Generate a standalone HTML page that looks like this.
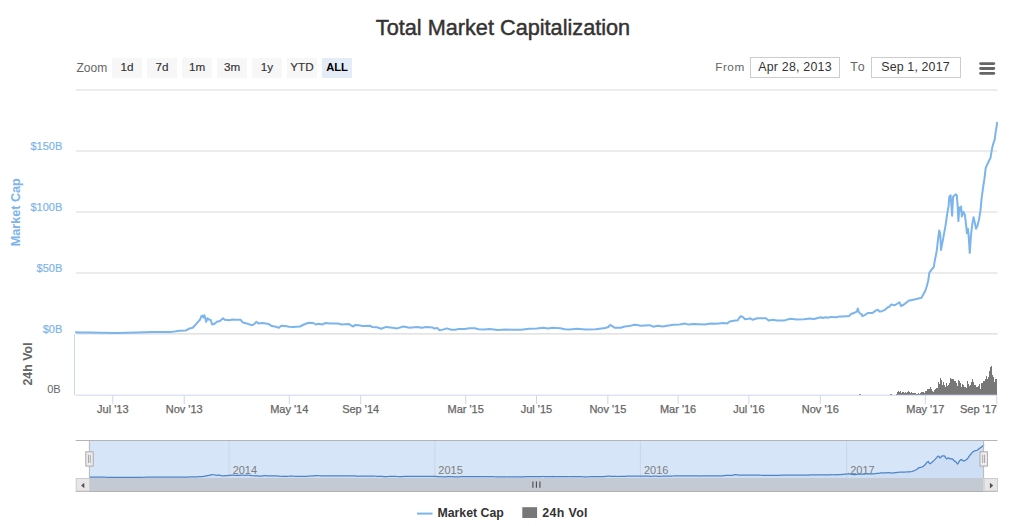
<!DOCTYPE html>
<html><head><meta charset="utf-8"><title>Total Market Capitalization</title><style>html,body{margin:0;padding:0;background:#fff;width:1024px;height:526px;overflow:hidden;position:relative}</style></head><body>
<svg width="1024" height="526" viewBox="0 0 1024 526" style="position:absolute;left:0;top:0;font-family:'Liberation Sans', Arial, sans-serif">
<rect x="0" y="0" width="1024" height="526" fill="#ffffff"/>
<text x="503" y="34.6" text-anchor="middle" font-size="21.7" fill="#333333" stroke="#333333" stroke-width="0.45">Total Market Capitalization</text>
<text x="76.5" y="71.5" font-size="12" fill="#666666">Zoom</text>
<rect x="112" y="58" width="30" height="20" fill="#f7f7f7"/>
<text x="127" y="70.9" text-anchor="middle" font-size="11.7" fill="#333333" stroke="#333333" stroke-width="0.15">1d</text>
<rect x="147" y="58" width="30" height="20" fill="#f7f7f7"/>
<text x="162" y="70.9" text-anchor="middle" font-size="11.7" fill="#333333" stroke="#333333" stroke-width="0.15">7d</text>
<rect x="182" y="58" width="30" height="20" fill="#f7f7f7"/>
<text x="197" y="70.9" text-anchor="middle" font-size="11.7" fill="#333333" stroke="#333333" stroke-width="0.15">1m</text>
<rect x="217" y="58" width="30" height="20" fill="#f7f7f7"/>
<text x="232" y="70.9" text-anchor="middle" font-size="11.7" fill="#333333" stroke="#333333" stroke-width="0.15">3m</text>
<rect x="252" y="58" width="30" height="20" fill="#f7f7f7"/>
<text x="267" y="70.9" text-anchor="middle" font-size="11.7" fill="#333333" stroke="#333333" stroke-width="0.15">1y</text>
<rect x="287" y="58" width="30" height="20" fill="#f7f7f7"/>
<text x="302" y="70.9" text-anchor="middle" font-size="11.7" fill="#333333" stroke="#333333" stroke-width="0.15">YTD</text>
<rect x="322" y="58" width="30" height="20" fill="#e4ecf7"/>
<text x="337" y="70.9" text-anchor="middle" font-size="11.2" font-weight="bold" fill="#000000">ALL</text>
<text x="715.2" y="71" font-size="11.8" fill="#666666" letter-spacing="0.5">From</text>
<rect x="750.5" y="57.5" width="89" height="20" fill="#ffffff" stroke="#cccccc" stroke-width="1"/>
<text x="795" y="71" text-anchor="middle" font-size="12.4" fill="#333333" letter-spacing="0.22">Apr 28, 2013</text>
<text x="850.3" y="71" font-size="12.4" fill="#666666" letter-spacing="1.3">To</text>
<rect x="871.5" y="57.5" width="89" height="20" fill="#ffffff" stroke="#cccccc" stroke-width="1"/>
<text x="915.5" y="71" text-anchor="middle" font-size="12.4" fill="#333333" letter-spacing="0.15">Sep 1, 2017</text>
<line x1="980.6" y1="63.6" x2="993.8" y2="63.6" stroke="#666666" stroke-width="2.8" stroke-linecap="round"/>
<line x1="980.6" y1="68.5" x2="993.8" y2="68.5" stroke="#666666" stroke-width="2.8" stroke-linecap="round"/>
<line x1="980.6" y1="73.3" x2="993.8" y2="73.3" stroke="#666666" stroke-width="2.8" stroke-linecap="round"/>
<line x1="75.7" y1="90.05" x2="997.5" y2="90.05" stroke="#dadada" stroke-width="1.1"/>
<line x1="75.7" y1="151.0" x2="997.5" y2="151.0" stroke="#dadada" stroke-width="1.1"/>
<line x1="75.7" y1="212.0" x2="997.5" y2="212.0" stroke="#dadada" stroke-width="1.1"/>
<line x1="75.7" y1="272.95" x2="997.5" y2="272.95" stroke="#dadada" stroke-width="1.1"/>
<line x1="75.7" y1="333.9" x2="997.5" y2="333.9" stroke="#dadada" stroke-width="1.1"/>
<text x="62.3" y="149.70" text-anchor="end" font-size="11" fill="#7cb5ec" stroke="#7cb5ec" stroke-width="0.2">$150B</text>
<text x="62.3" y="210.70" text-anchor="end" font-size="11" fill="#7cb5ec" stroke="#7cb5ec" stroke-width="0.2">$100B</text>
<text x="62.3" y="271.65" text-anchor="end" font-size="11" fill="#7cb5ec" stroke="#7cb5ec" stroke-width="0.2">$50B</text>
<text x="62.3" y="332.60" text-anchor="end" font-size="11" fill="#7cb5ec" stroke="#7cb5ec" stroke-width="0.2">$0B</text>
<text transform="translate(20.4,212.2) rotate(-90)" text-anchor="middle" font-size="12.6" font-weight="bold" fill="#7cb5ec">Market Cap</text>
<text transform="translate(32.3,364) rotate(-90)" text-anchor="middle" font-size="12.4" font-weight="bold" fill="#666666">24h Vol</text>
<text x="60.6" y="392.8" text-anchor="end" font-size="11" fill="#666666">0B</text>
<line x1="74.5" y1="334.3" x2="74.5" y2="395" stroke="#ccd6eb" stroke-width="1"/>
<path d="M859,394.8V394.00H860V394.8ZM860,394.8V394.20H861V394.8ZM890,394.8V394.20H891V394.8ZM891,394.8V394.20H892V394.8ZM896,394.8V393.75H897V394.8ZM897,394.8V392.10H898V394.8ZM898,394.8V391.34H899V394.8ZM899,394.8V391.86H900V394.8ZM900,394.8V390.72H901V394.8ZM901,394.8V392.64H902V394.8ZM902,394.8V392.33H903V394.8ZM903,394.8V392.04H904V394.8ZM904,394.8V393.39H905V394.8ZM905,394.8V392.01H906V394.8ZM906,394.8V392.72H907V394.8ZM907,394.8V391.59H908V394.8ZM908,394.8V391.39H909V394.8ZM909,394.8V391.94H910V394.8ZM910,394.8V393.03H911V394.8ZM911,394.8V391.85H912V394.8ZM912,394.8V392.59H913V394.8ZM913,394.8V393.15H914V394.8ZM914,394.8V392.60H915V394.8ZM915,394.8V392.55H916V394.8ZM916,394.8V393.50H917V394.8ZM917,394.8V394.20H918V394.8ZM918,394.8V392.51H919V394.8ZM919,394.8V394.19H920V394.8ZM920,394.8V392.56H921V394.8ZM921,394.8V391.95H922V394.8ZM922,394.8V391.62H923V394.8ZM923,394.8V391.86H924V394.8ZM924,394.8V392.63H925V394.8ZM925,394.8V390.55H926V394.8ZM926,394.8V390.59H927V394.8ZM927,394.8V389.30H928V394.8ZM928,394.8V389.14H929V394.8ZM929,394.8V388.75H930V394.8ZM930,394.8V386.60H931V394.8ZM931,394.8V388.82H932V394.8ZM932,394.8V390.62H933V394.8ZM933,394.8V392.27H934V394.8ZM934,394.8V390.06H935V394.8ZM935,394.8V388.55H936V394.8ZM936,394.8V388.28H937V394.8ZM937,394.8V387.71H938V394.8ZM938,394.8V381.53H939V394.8ZM939,394.8V383.79H940V394.8ZM940,394.8V377.94H941V394.8ZM941,394.8V380.34H942V394.8ZM942,394.8V384.88H943V394.8ZM943,394.8V381.99H944V394.8ZM944,394.8V385.07H945V394.8ZM945,394.8V386.55H946V394.8ZM946,394.8V382.66H947V394.8ZM947,394.8V385.84H948V394.8ZM948,394.8V384.96H949V394.8ZM949,394.8V383.27H950V394.8ZM950,394.8V377.75H951V394.8ZM951,394.8V378.92H952V394.8ZM952,394.8V379.27H953V394.8ZM953,394.8V379.44H954V394.8ZM954,394.8V380.75H955V394.8ZM955,394.8V381.08H956V394.8ZM956,394.8V383.38H957V394.8ZM957,394.8V386.49H958V394.8ZM958,394.8V379.60H959V394.8ZM959,394.8V381.27H960V394.8ZM960,394.8V383.39H961V394.8ZM961,394.8V386.83H962V394.8ZM962,394.8V384.24H963V394.8ZM963,394.8V385.05H964V394.8ZM964,394.8V387.36H965V394.8ZM965,394.8V387.25H966V394.8ZM966,394.8V387.83H967V394.8ZM967,394.8V380.77H968V394.8ZM968,394.8V384.32H969V394.8ZM969,394.8V385.65H970V394.8ZM970,394.8V385.48H971V394.8ZM971,394.8V382.47H972V394.8ZM972,394.8V378.74H973V394.8ZM973,394.8V381.60H974V394.8ZM974,394.8V384.65H975V394.8ZM975,394.8V384.75H976V394.8ZM976,394.8V386.81H977V394.8ZM977,394.8V387.44H978V394.8ZM978,394.8V385.90H979V394.8ZM979,394.8V384.25H980V394.8ZM980,394.8V388.64H981V394.8ZM981,394.8V383.11H982V394.8ZM982,394.8V382.89H983V394.8ZM983,394.8V381.49H984V394.8ZM984,394.8V380.89H985V394.8ZM985,394.8V378.70H986V394.8ZM986,394.8V376.28H987V394.8ZM987,394.8V379.13H988V394.8ZM988,394.8V377.06H989V394.8ZM989,394.8V371.33H990V394.8ZM990,394.8V366.77H991V394.8ZM991,394.8V366.37H992V394.8ZM992,394.8V374.50H993V394.8ZM993,394.8V376.99H994V394.8ZM994,394.8V382.11H995V394.8ZM995,394.8V379.20H996V394.8ZM996,394.8V378.57H997V394.8Z" fill="#777777" stroke="none" shape-rendering="crispEdges"/>
<line x1="75.7" y1="395.2" x2="997.5" y2="395.2" stroke="#ccd6eb" stroke-width="1"/>
<line x1="112.84" y1="395.2" x2="112.84" y2="404" stroke="#ccd6eb" stroke-width="1"/>
<text x="112.84" y="412.8" text-anchor="middle" font-size="11" fill="#666666" stroke="#666666" stroke-width="0.25">Jul '13</text>
<line x1="184.22" y1="395.2" x2="184.22" y2="404" stroke="#ccd6eb" stroke-width="1"/>
<text x="184.22" y="412.8" text-anchor="middle" font-size="11" fill="#666666" stroke="#666666" stroke-width="0.25">Nov '13</text>
<line x1="289.27" y1="395.2" x2="289.27" y2="404" stroke="#ccd6eb" stroke-width="1"/>
<text x="289.27" y="412.8" text-anchor="middle" font-size="11" fill="#666666" stroke="#666666" stroke-width="0.25">May '14</text>
<line x1="360.65" y1="395.2" x2="360.65" y2="404" stroke="#ccd6eb" stroke-width="1"/>
<text x="360.65" y="412.8" text-anchor="middle" font-size="11" fill="#666666" stroke="#666666" stroke-width="0.25">Sep '14</text>
<line x1="465.69" y1="395.2" x2="465.69" y2="404" stroke="#ccd6eb" stroke-width="1"/>
<text x="465.69" y="412.8" text-anchor="middle" font-size="11" fill="#666666" stroke="#666666" stroke-width="0.25">Mar '15</text>
<line x1="536.49" y1="395.2" x2="536.49" y2="404" stroke="#ccd6eb" stroke-width="1"/>
<text x="536.49" y="412.8" text-anchor="middle" font-size="11" fill="#666666" stroke="#666666" stroke-width="0.25">Jul '15</text>
<line x1="607.87" y1="395.2" x2="607.87" y2="404" stroke="#ccd6eb" stroke-width="1"/>
<text x="607.87" y="412.8" text-anchor="middle" font-size="11" fill="#666666" stroke="#666666" stroke-width="0.25">Nov '15</text>
<line x1="678.09" y1="395.2" x2="678.09" y2="404" stroke="#ccd6eb" stroke-width="1"/>
<text x="678.09" y="412.8" text-anchor="middle" font-size="11" fill="#666666" stroke="#666666" stroke-width="0.25">Mar '16</text>
<line x1="748.89" y1="395.2" x2="748.89" y2="404" stroke="#ccd6eb" stroke-width="1"/>
<text x="748.89" y="412.8" text-anchor="middle" font-size="11" fill="#666666" stroke="#666666" stroke-width="0.25">Jul '16</text>
<line x1="820.28" y1="395.2" x2="820.28" y2="404" stroke="#ccd6eb" stroke-width="1"/>
<text x="820.28" y="412.8" text-anchor="middle" font-size="11" fill="#666666" stroke="#666666" stroke-width="0.25">Nov '16</text>
<line x1="925.32" y1="395.2" x2="925.32" y2="404" stroke="#ccd6eb" stroke-width="1"/>
<text x="925.32" y="412.8" text-anchor="middle" font-size="11" fill="#666666" stroke="#666666" stroke-width="0.25">May '17</text>
<line x1="996.70" y1="395.2" x2="996.70" y2="404" stroke="#ccd6eb" stroke-width="1"/>
<text x="996.90" y="412.8" text-anchor="end" font-size="11" fill="#666666" stroke="#666666" stroke-width="0.25">Sep '17</text>
<path d="M76,332.3 L80,332.4 L89.6,332.5 L100,332.8 L116.2,333.1 L126,332.8 L136.5,332.5 L152.1,332 L160,332.1 L170,332 L174.7,331.6 L179.4,330.8 L185.6,330.6 L188.75,328.8 L192.7,327.7 L195,325.3 L198.1,321.8 L200.1,319.5 L201.25,316.3 L202.4,315.5 L203.2,317.5 L204.4,315.2 L205.2,317.9 L206.1,321.8 L207.5,318.3 L208.7,319.5 L210.6,319.8 L212.2,324.5 L214.5,323.75 L216.9,321.8 L220,321 L223.1,318.3 L224.7,319.8 L229.4,320.2 L232.5,319.5 L234.8,319.8 L238,319.7 L240.7,319.8 L243,322.6 L246.6,323.4 L249.7,324.5 L252.3,325.2 L254.7,323.75 L256.25,321.8 L258.6,323.4 L262.5,323 L268.75,324.1 L271.9,326.1 L275.8,326.7 L278.9,327.7 L281.25,325.7 L285.2,325.9 L289.1,326.7 L293,326.9 L300,326.5 L303.9,324.5 L308.6,322.8 L313.3,323 L315.6,324.5 L318.75,323.75 L321.9,324.5 L325.8,323 L329.7,323.6 L337.8,323.6 L341.7,324.4 L348.75,323.9 L351.1,325.5 L353.4,326.5 L355,324.9 L358.9,325.2 L362.8,325.9 L369.8,325.7 L372.2,327 L376.9,327.3 L381.2,328.7 L386.25,326.9 L392.5,327.8 L397.2,328.4 L403.4,326.5 L409.7,327.7 L417,326.9 L421.7,327.7 L426.4,327 L432.7,327.5 L434.2,328.6 L437.3,328 L439.7,330.4 L442.8,329.6 L446.7,328.4 L451.4,329.8 L455.3,329.8 L458.4,329.1 L464.7,329.1 L469.4,328.3 L474.8,328.3 L478.75,329.2 L484.2,329.4 L489.7,329.1 L497.8,330 L505.6,329.4 L511.9,329.8 L521.25,329.8 L529.1,328.8 L536.9,328.4 L543.1,327.7 L547.8,328.4 L552.5,327.8 L560.3,328.3 L565,329.2 L569.7,329.4 L577,328.8 L585.6,329.6 L595.8,329.2 L605.2,328 L608.3,327 L610.2,324.9 L611.8,325.9 L614.5,327.7 L620.8,327.8 L624.7,326.5 L629.4,326.1 L634.1,324.7 L637.2,324.9 L640.3,325.7 L645,325.5 L649.7,325.2 L653.1,326.7 L657.8,325.8 L662.5,326.6 L667.2,325.8 L673.4,324.8 L679.7,324.4 L685.2,323.6 L688.3,324.6 L693.75,324.1 L704.7,324.6 L710.9,323.6 L716.4,323.8 L723.4,323 L727.3,323.4 L729.7,321.5 L733.9,320.8 L737.8,320.2 L739.4,317.7 L740.9,316.1 L743.3,317.3 L744.8,319.2 L748.75,318.8 L750.3,318.3 L752.7,319.8 L757.3,318.3 L765.9,318.3 L768.7,320.6 L773,319.8 L776.9,320.4 L784.7,320.4 L790.2,318.8 L796.4,319.4 L804.2,319.2 L809.7,318.4 L813.9,319 L820.9,317.2 L822.5,318 L825.6,317.2 L828,317.8 L831.1,316.9 L836.6,317.2 L839.7,316.4 L842.8,316.6 L849.1,316.1 L850.6,314.3 L854.5,312.7 L856.9,311.6 L857.8,308.4 L858.8,312 L860,313.5 L861.6,314.1 L862.3,316.1 L864.7,315.1 L867.8,313 L872.5,313 L875.6,310.6 L878,309.8 L879.5,311.6 L881.9,311.2 L885,309.8 L887.3,307.7 L889.7,306.5 L891.1,304.5 L894.9,305.3 L899.4,302.2 L901,306 L904,304.5 L908.6,300.7 L915.4,299.2 L921.5,297.7 L925.3,290.8 L926.8,286.3 L928.3,280.2 L929.4,272.6 L931.4,269.8 L933.7,267.3 L934.9,260 L936.7,251.3 L937.6,243 L939.2,230.5 L940.2,233.2 L941,250 L943.3,237.8 L945.5,225.6 L947.5,212 L948.6,205.9 L949.3,196.7 L950.6,195.2 L951.2,202.8 L952.1,215.7 L953.1,196.7 L954.7,195.2 L955.8,194.4 L956.8,195.2 L957.7,206.5 L958.4,221.1 L959.4,207.4 L960.3,210.4 L961.1,206.6 L961.8,216.5 L963.4,211.9 L964.9,215 L966,224.1 L966.9,233.2 L967.9,228.7 L968.7,236.3 L969.75,253 L971,234.8 L972.5,222.6 L973.6,217.3 L974.8,222.6 L976,228.7 L977.5,225.6 L979,219.5 L980.5,210.4 L981.6,198.6 L983,188 L984.5,178.4 L985.7,168.1 L987.1,164.7 L988.8,161.3 L990.5,157.9 L991.9,149.3 L993.1,144.2 L994.8,139.1 L995.6,132.2 L996.5,127.1 L997,122.8" fill="none" stroke="#7cb5ec" stroke-width="2" stroke-linejoin="round" stroke-linecap="round"/>
<rect x="89.4" y="440.5" width="894.2" height="37.5" fill="#d7e5f8"/>
<line x1="229.14" y1="440.5" x2="229.14" y2="478.0" stroke="#c9d3e0" stroke-width="0.8"/>
<text x="232.64" y="473.8" font-size="11" fill="#7d7d7d">2014</text>
<line x1="434.80" y1="440.5" x2="434.80" y2="478.0" stroke="#c9d3e0" stroke-width="0.8"/>
<text x="438.30" y="473.8" font-size="11" fill="#7d7d7d">2015</text>
<line x1="640.46" y1="440.5" x2="640.46" y2="478.0" stroke="#c9d3e0" stroke-width="0.8"/>
<text x="643.96" y="473.8" font-size="11" fill="#7d7d7d">2016</text>
<line x1="846.68" y1="440.5" x2="846.68" y2="478.0" stroke="#c9d3e0" stroke-width="0.8"/>
<text x="850.18" y="473.8" font-size="11" fill="#7d7d7d">2017</text>
<path d="M89.4,477.20 L90.4,477.20 L91.3,477.21 L92.3,477.21 L93.3,477.21 L94.3,477.22 L95.2,477.22 L96.2,477.22 L97.2,477.22 L98.1,477.22 L99.1,477.22 L100.1,477.23 L101.1,477.23 L102.0,477.23 L103.0,477.23 L104.0,477.24 L104.9,477.24 L105.9,477.25 L106.9,477.25 L107.8,477.25 L108.8,477.26 L109.8,477.26 L110.8,477.27 L111.7,477.27 L112.7,477.28 L113.7,477.28 L114.6,477.28 L115.6,477.29 L116.6,477.29 L117.6,477.29 L118.5,477.29 L119.5,477.30 L120.5,477.30 L121.4,477.30 L122.4,477.31 L123.4,477.31 L124.4,477.31 L125.3,477.31 L126.3,477.32 L127.3,477.32 L128.2,477.32 L129.2,477.32 L130.2,477.32 L131.1,477.31 L132.1,477.31 L133.1,477.30 L134.1,477.30 L135.0,477.29 L136.0,477.29 L137.0,477.28 L137.9,477.28 L138.9,477.27 L139.9,477.27 L140.9,477.27 L141.8,477.26 L142.8,477.26 L143.8,477.25 L144.7,477.25 L145.7,477.24 L146.7,477.24 L147.7,477.23 L148.6,477.23 L149.6,477.23 L150.6,477.22 L151.5,477.22 L152.5,477.21 L153.5,477.21 L154.5,477.20 L155.4,477.20 L156.4,477.19 L157.4,477.19 L158.3,477.18 L159.3,477.18 L160.3,477.17 L161.2,477.17 L162.2,477.16 L163.2,477.16 L164.2,477.15 L165.1,477.16 L166.1,477.16 L167.1,477.16 L168.0,477.16 L169.0,477.16 L170.0,477.17 L171.0,477.17 L171.9,477.17 L172.9,477.17 L173.9,477.16 L174.8,477.16 L175.8,477.16 L176.8,477.16 L177.8,477.16 L178.7,477.16 L179.7,477.16 L180.7,477.15 L181.6,477.14 L182.6,477.13 L183.6,477.12 L184.5,477.10 L185.5,477.09 L186.5,477.06 L187.5,477.04 L188.4,477.01 L189.4,476.99 L190.4,476.97 L191.3,476.96 L192.3,476.96 L193.3,476.95 L194.3,476.95 L195.2,476.94 L196.2,476.92 L197.2,476.84 L198.1,476.75 L199.1,476.67 L200.1,476.61 L201.1,476.57 L202.0,476.53 L203.0,476.46 L204.0,476.32 L204.9,476.16 L205.9,475.99 L206.9,475.81 L207.8,475.64 L208.8,475.46 L209.8,475.27 L210.8,474.95 L211.7,474.67 L212.7,474.74 L213.7,474.75 L214.6,474.75 L215.6,475.26 L216.6,475.33 L217.6,475.11 L218.5,475.19 L219.5,475.23 L220.5,475.36 L221.4,475.76 L222.4,475.96 L223.4,475.91 L224.4,475.84 L225.3,475.72 L226.3,475.60 L227.3,475.53 L228.2,475.49 L229.2,475.45 L230.2,475.35 L231.2,475.21 L232.1,475.09 L233.1,475.11 L234.1,475.23 L235.0,475.27 L236.0,475.28 L237.0,475.29 L237.9,475.31 L238.9,475.30 L239.9,475.27 L240.9,475.24 L241.8,475.22 L242.8,475.23 L243.8,475.25 L244.7,475.25 L245.7,475.25 L246.7,475.24 L247.7,475.24 L248.6,475.25 L249.6,475.29 L250.6,475.44 L251.5,475.62 L252.5,475.71 L253.5,475.75 L254.5,475.78 L255.4,475.82 L256.4,475.88 L257.4,475.93 L258.3,475.98 L259.3,476.03 L260.3,476.07 L261.2,476.05 L262.2,475.96 L263.2,475.85 L264.2,475.67 L265.1,475.62 L266.1,475.72 L267.1,475.80 L268.0,475.80 L269.0,475.78 L270.0,475.77 L271.0,475.76 L271.9,475.79 L272.9,475.81 L273.9,475.84 L274.8,475.87 L275.8,475.90 L276.8,475.93 L277.8,476.02 L278.7,476.12 L279.7,476.21 L280.7,476.25 L281.6,476.28 L282.6,476.30 L283.6,476.33 L284.6,476.37 L285.5,476.42 L286.5,476.46 L287.5,476.38 L288.4,476.25 L289.4,476.18 L290.4,476.18 L291.3,476.19 L292.3,476.20 L293.3,476.22 L294.3,476.25 L295.2,476.28 L296.2,476.32 L297.2,476.33 L298.1,476.34 L299.1,476.35 L300.1,476.36 L301.1,476.35 L302.0,476.34 L303.0,476.34 L304.0,476.33 L304.9,476.32 L305.9,476.31 L306.9,476.30 L307.9,476.24 L308.8,476.16 L309.8,476.08 L310.8,476.00 L311.7,475.94 L312.7,475.89 L313.7,475.83 L314.6,475.77 L315.6,475.73 L316.6,475.73 L317.6,475.74 L318.5,475.74 L319.5,475.75 L320.5,475.80 L321.4,475.89 L322.4,475.96 L323.4,475.95 L324.4,475.91 L325.3,475.88 L326.3,475.90 L327.3,475.94 L328.2,475.97 L329.2,475.94 L330.2,475.88 L331.2,475.82 L332.1,475.77 L333.1,475.77 L334.1,475.80 L335.0,475.82 L336.0,475.84 L337.0,475.85 L338.0,475.85 L338.9,475.85 L339.9,475.85 L340.9,475.85 L341.8,475.85 L342.8,475.85 L343.8,475.85 L344.7,475.88 L345.7,475.91 L346.7,475.94 L347.7,475.96 L348.6,475.96 L349.6,475.95 L350.6,475.94 L351.5,475.93 L352.5,475.92 L353.5,475.90 L354.5,475.91 L355.4,475.99 L356.4,476.10 L357.4,476.18 L358.3,476.25 L359.3,476.24 L360.3,476.11 L361.3,476.06 L362.2,476.07 L363.2,476.08 L364.2,476.09 L365.1,476.12 L366.1,476.15 L367.1,476.17 L368.0,476.20 L369.0,476.20 L370.0,476.20 L371.0,476.19 L371.9,476.19 L372.9,476.18 L373.9,476.18 L374.8,476.19 L375.8,476.25 L376.8,476.33 L377.8,476.38 L378.7,476.39 L379.7,476.40 L380.7,476.41 L381.6,476.42 L382.6,476.46 L383.6,476.51 L384.6,476.56 L385.5,476.61 L386.5,476.61 L387.5,476.56 L388.4,476.50 L389.4,476.45 L390.4,476.39 L391.4,476.37 L392.3,476.39 L393.3,476.41 L394.3,476.44 L395.2,476.46 L396.2,476.48 L397.2,476.50 L398.1,476.52 L399.1,476.54 L400.1,476.56 L401.1,476.58 L402.0,476.57 L403.0,476.52 L404.0,476.47 L404.9,476.43 L405.9,476.38 L406.9,476.33 L407.9,476.31 L408.8,476.34 L409.8,476.37 L410.8,476.40 L411.7,476.42 L412.7,476.45 L413.7,476.48 L414.7,476.47 L415.6,476.45 L416.6,476.43 L417.6,476.42 L418.5,476.40 L419.5,476.38 L420.5,476.37 L421.4,476.38 L422.4,476.40 L423.4,476.43 L424.4,476.46 L425.3,476.48 L426.3,476.46 L427.3,476.44 L428.2,476.41 L429.2,476.39 L430.2,476.38 L431.2,476.39 L432.1,476.40 L433.1,476.42 L434.1,476.43 L435.0,476.44 L436.0,476.47 L437.0,476.57 L438.0,476.61 L438.9,476.58 L439.9,476.55 L440.9,476.60 L441.8,476.75 L442.8,476.87 L443.8,476.86 L444.7,476.82 L445.7,476.78 L446.7,476.74 L447.7,476.69 L448.6,476.64 L449.6,476.61 L450.6,476.64 L451.5,476.69 L452.5,476.73 L453.5,476.78 L454.5,476.81 L455.4,476.81 L456.4,476.81 L457.4,476.81 L458.3,476.80 L459.3,476.76 L460.3,476.73 L461.3,476.70 L462.2,476.70 L463.2,476.70 L464.2,476.70 L465.1,476.70 L466.1,476.70 L467.1,476.70 L468.1,476.68 L469.0,476.65 L470.0,476.62 L471.0,476.60 L471.9,476.58 L472.9,476.58 L473.9,476.58 L474.8,476.58 L475.8,476.58 L476.8,476.58 L477.8,476.61 L478.7,476.64 L479.7,476.68 L480.7,476.71 L481.6,476.72 L482.6,476.73 L483.6,476.73 L484.6,476.74 L485.5,476.75 L486.5,476.74 L487.5,476.74 L488.4,476.73 L489.4,476.72 L490.4,476.71 L491.4,476.71 L492.3,476.72 L493.3,476.74 L494.3,476.75 L495.2,476.77 L496.2,476.79 L497.2,476.81 L498.1,476.82 L499.1,476.84 L500.1,476.83 L501.1,476.82 L502.0,476.81 L503.0,476.80 L504.0,476.78 L504.9,476.77 L505.9,476.76 L506.9,476.75 L507.9,476.76 L508.8,476.77 L509.8,476.78 L510.8,476.79 L511.7,476.80 L512.7,476.81 L513.7,476.81 L514.7,476.81 L515.6,476.81 L516.6,476.81 L517.6,476.81 L518.5,476.81 L519.5,476.81 L520.5,476.81 L521.5,476.81 L522.4,476.80 L523.4,476.78 L524.4,476.76 L525.3,476.74 L526.3,476.72 L527.3,476.70 L528.2,476.68 L529.2,476.66 L530.2,476.65 L531.2,476.64 L532.1,476.63 L533.1,476.63 L534.1,476.62 L535.0,476.61 L536.0,476.60 L537.0,476.59 L538.0,476.58 L538.9,476.56 L539.9,476.54 L540.9,476.53 L541.8,476.51 L542.8,476.49 L543.8,476.50 L544.8,476.52 L545.7,476.54 L546.7,476.57 L547.7,476.59 L548.6,476.58 L549.6,476.56 L550.6,476.54 L551.5,476.52 L552.5,476.50 L553.5,476.51 L554.5,476.52 L555.4,476.53 L556.4,476.54 L557.4,476.55 L558.3,476.56 L559.3,476.57 L560.3,476.59 L561.3,476.62 L562.2,476.65 L563.2,476.68 L564.2,476.71 L565.1,476.72 L566.1,476.73 L567.1,476.74 L568.1,476.74 L569.0,476.75 L570.0,476.74 L571.0,476.72 L571.9,476.71 L572.9,476.70 L573.9,476.68 L574.9,476.67 L575.8,476.66 L576.8,476.67 L577.8,476.68 L578.7,476.69 L579.7,476.71 L580.7,476.72 L581.6,476.74 L582.6,476.75 L583.6,476.77 L584.6,476.78 L585.5,476.77 L586.5,476.77 L587.5,476.76 L588.4,476.75 L589.4,476.75 L590.4,476.74 L591.4,476.74 L592.3,476.73 L593.3,476.72 L594.3,476.72 L595.2,476.70 L596.2,476.68 L597.2,476.66 L598.2,476.64 L599.1,476.62 L600.1,476.60 L601.1,476.58 L602.0,476.56 L603.0,476.54 L604.0,476.51 L604.9,476.46 L605.9,476.41 L606.9,476.30 L607.9,476.13 L608.8,476.10 L609.8,476.20 L610.8,476.30 L611.7,476.40 L612.7,476.47 L613.7,476.49 L614.7,476.49 L615.6,476.49 L616.6,476.49 L617.6,476.50 L618.5,476.49 L619.5,476.45 L620.5,476.40 L621.5,476.35 L622.4,476.30 L623.4,476.28 L624.4,476.27 L625.3,476.26 L626.3,476.24 L627.3,476.22 L628.3,476.18 L629.2,476.13 L630.2,476.08 L631.2,476.04 L632.1,476.02 L633.1,476.03 L634.1,476.04 L635.0,476.07 L636.0,476.11 L637.0,476.15 L638.0,476.17 L638.9,476.16 L639.9,476.16 L640.9,476.15 L641.8,476.14 L642.8,476.13 L643.8,476.13 L644.8,476.12 L645.7,476.11 L646.7,476.11 L647.7,476.16 L648.6,476.23 L649.6,476.30 L650.6,476.31 L651.6,476.28 L652.5,476.25 L653.5,476.22 L654.5,476.20 L655.4,476.21 L656.4,476.24 L657.4,476.27 L658.3,476.29 L659.3,476.30 L660.3,476.28 L661.3,476.25 L662.2,476.23 L663.2,476.20 L664.2,476.18 L665.1,476.15 L666.1,476.13 L667.1,476.10 L668.1,476.08 L669.0,476.05 L670.0,476.03 L671.0,476.02 L671.9,476.01 L672.9,476.00 L673.9,475.99 L674.9,475.98 L675.8,475.97 L676.8,475.95 L677.8,475.93 L678.7,475.90 L679.7,475.88 L680.7,475.86 L681.6,475.87 L682.6,475.92 L683.6,475.97 L684.6,475.99 L685.5,475.98 L686.5,475.97 L687.5,475.95 L688.4,475.94 L689.4,475.93 L690.4,475.93 L691.4,475.94 L692.3,475.95 L693.3,475.95 L694.3,475.96 L695.2,475.97 L696.2,475.97 L697.2,475.98 L698.2,475.99 L699.1,475.99 L700.1,476.00 L701.1,475.98 L702.0,475.95 L703.0,475.93 L704.0,475.90 L705.0,475.88 L705.9,475.85 L706.9,475.85 L707.9,475.86 L708.8,475.86 L709.8,475.87 L710.8,475.87 L711.7,475.87 L712.7,475.85 L713.7,475.84 L714.7,475.82 L715.6,475.80 L716.6,475.78 L717.6,475.77 L718.5,475.76 L719.5,475.77 L720.5,475.79 L721.5,475.81 L722.4,475.76 L723.4,475.64 L724.4,475.54 L725.3,475.49 L726.3,475.47 L727.3,475.44 L728.3,475.42 L729.2,475.39 L730.2,475.37 L731.2,475.34 L732.1,475.29 L733.1,475.10 L734.1,474.88 L735.0,474.74 L736.0,474.74 L737.0,474.82 L738.0,474.95 L738.9,475.11 L739.9,475.15 L740.9,475.13 L741.8,475.12 L742.8,475.10 L743.8,475.05 L744.8,475.07 L745.7,475.16 L746.7,475.23 L747.7,475.20 L748.6,475.15 L749.6,475.10 L750.6,475.05 L751.6,475.02 L752.5,475.02 L753.5,475.02 L754.5,475.02 L755.4,475.02 L756.4,475.02 L757.4,475.02 L758.4,475.02 L759.3,475.03 L760.3,475.12 L761.3,475.25 L762.2,475.35 L763.2,475.35 L764.2,475.32 L765.1,475.29 L766.1,475.27 L767.1,475.27 L768.1,475.30 L769.0,475.32 L770.0,475.34 L771.0,475.35 L771.9,475.35 L772.9,475.35 L773.9,475.35 L774.9,475.35 L775.8,475.35 L776.8,475.35 L777.8,475.34 L778.7,475.30 L779.7,475.26 L780.7,475.21 L781.7,475.17 L782.6,475.12 L783.6,475.11 L784.6,475.12 L785.5,475.14 L786.5,475.15 L787.5,475.17 L788.4,475.18 L789.4,475.19 L790.4,475.19 L791.4,475.18 L792.3,475.18 L793.3,475.18 L794.3,475.17 L795.2,475.17 L796.2,475.16 L797.2,475.15 L798.2,475.13 L799.1,475.11 L800.1,475.08 L801.1,475.06 L802.0,475.04 L803.0,475.06 L804.0,475.08 L805.0,475.10 L805.9,475.12 L806.9,475.10 L807.9,475.06 L808.8,475.02 L809.8,474.98 L810.8,474.94 L811.8,474.90 L812.7,474.87 L813.7,474.91 L814.7,474.96 L815.6,474.93 L816.6,474.89 L817.6,474.86 L818.5,474.89 L819.5,474.93 L820.5,474.91 L821.5,474.87 L822.4,474.82 L823.4,474.81 L824.4,474.82 L825.3,474.83 L826.3,474.83 L827.3,474.84 L828.3,474.84 L829.2,474.81 L830.2,474.77 L831.2,474.73 L832.1,474.74 L833.1,474.75 L834.1,474.75 L835.1,474.75 L836.0,474.73 L837.0,474.72 L838.0,474.71 L838.9,474.70 L839.9,474.68 L840.9,474.57 L841.8,474.41 L842.8,474.33 L843.8,474.27 L844.8,474.20 L845.7,474.14 L846.7,474.06 L847.7,473.95 L848.6,473.68 L849.6,473.94 L850.6,474.21 L851.6,474.32 L852.5,474.46 L853.5,474.64 L854.5,474.59 L855.4,474.52 L856.4,474.42 L857.4,474.31 L858.4,474.22 L859.3,474.20 L860.3,474.20 L861.3,474.20 L862.2,474.20 L863.2,474.16 L864.2,474.05 L865.2,473.93 L866.1,473.83 L867.1,473.77 L868.1,473.73 L869.0,473.83 L870.0,473.95 L871.0,473.95 L871.9,473.92 L872.9,473.86 L873.9,473.79 L874.9,473.72 L875.8,473.60 L876.8,473.46 L877.8,473.34 L878.7,473.26 L879.7,473.16 L880.7,472.97 L881.7,472.89 L882.6,472.93 L883.6,472.96 L884.6,472.98 L885.5,472.91 L886.5,472.81 L887.5,472.70 L888.5,472.59 L889.4,472.66 L890.4,472.97 L891.4,473.05 L892.3,472.98 L893.3,472.89 L894.3,472.78 L895.2,472.66 L896.2,472.53 L897.2,472.40 L898.2,472.29 L899.1,472.25 L900.1,472.21 L901.1,472.18 L902.0,472.14 L903.0,472.11 L904.0,472.07 L905.0,472.04 L905.9,472.00 L906.9,471.96 L907.9,471.92 L908.8,471.89 L909.8,471.85 L910.8,471.74 L911.8,471.48 L912.7,471.19 L913.7,470.91 L914.7,470.55 L915.6,470.07 L916.6,469.47 L917.6,468.65 L918.5,467.90 L919.5,467.63 L920.5,467.43 L921.5,467.26 L922.4,466.96 L923.4,466.16 L924.4,465.35 L925.3,464.48 L926.3,463.21 L927.3,461.97 L928.3,461.57 L929.2,463.14 L930.2,463.82 L931.2,462.99 L932.1,462.15 L933.1,461.29 L934.1,460.37 L935.1,459.33 L936.0,458.33 L937.0,457.17 L938.0,456.09 L938.9,456.35 L939.9,457.99 L940.9,457.38 L941.9,456.01 L942.8,455.87 L943.8,455.79 L944.8,456.10 L945.7,457.84 L946.7,458.90 L947.7,458.10 L948.6,457.99 L949.6,458.61 L950.6,458.78 L951.6,458.61 L952.5,458.98 L953.5,460.00 L954.5,461.24 L955.4,461.44 L956.4,462.43 L957.4,464.03 L958.4,462.78 L959.3,461.14 L960.3,460.03 L961.3,459.57 L962.2,460.08 L963.2,460.77 L964.2,460.85 L965.2,460.44 L966.1,459.82 L967.1,458.99 L968.1,457.83 L969.0,456.34 L970.0,455.11 L971.0,454.05 L971.9,452.95 L972.9,451.81 L973.9,451.27 L974.9,450.93 L975.8,450.62 L976.8,450.31 L977.8,449.81 L978.7,448.95 L979.7,448.20 L980.7,447.65 L981.7,447.07 L982.6,446.04 L983.6,445.18 L983.6,444.60 L983.6,478.0 L89.4,478.0 Z" fill="#4a78bd" fill-opacity="0.06" stroke="none"/>
<path d="M89.4,477.20 L90.4,477.20 L91.3,477.21 L92.3,477.21 L93.3,477.21 L94.3,477.22 L95.2,477.22 L96.2,477.22 L97.2,477.22 L98.1,477.22 L99.1,477.22 L100.1,477.23 L101.1,477.23 L102.0,477.23 L103.0,477.23 L104.0,477.24 L104.9,477.24 L105.9,477.25 L106.9,477.25 L107.8,477.25 L108.8,477.26 L109.8,477.26 L110.8,477.27 L111.7,477.27 L112.7,477.28 L113.7,477.28 L114.6,477.28 L115.6,477.29 L116.6,477.29 L117.6,477.29 L118.5,477.29 L119.5,477.30 L120.5,477.30 L121.4,477.30 L122.4,477.31 L123.4,477.31 L124.4,477.31 L125.3,477.31 L126.3,477.32 L127.3,477.32 L128.2,477.32 L129.2,477.32 L130.2,477.32 L131.1,477.31 L132.1,477.31 L133.1,477.30 L134.1,477.30 L135.0,477.29 L136.0,477.29 L137.0,477.28 L137.9,477.28 L138.9,477.27 L139.9,477.27 L140.9,477.27 L141.8,477.26 L142.8,477.26 L143.8,477.25 L144.7,477.25 L145.7,477.24 L146.7,477.24 L147.7,477.23 L148.6,477.23 L149.6,477.23 L150.6,477.22 L151.5,477.22 L152.5,477.21 L153.5,477.21 L154.5,477.20 L155.4,477.20 L156.4,477.19 L157.4,477.19 L158.3,477.18 L159.3,477.18 L160.3,477.17 L161.2,477.17 L162.2,477.16 L163.2,477.16 L164.2,477.15 L165.1,477.16 L166.1,477.16 L167.1,477.16 L168.0,477.16 L169.0,477.16 L170.0,477.17 L171.0,477.17 L171.9,477.17 L172.9,477.17 L173.9,477.16 L174.8,477.16 L175.8,477.16 L176.8,477.16 L177.8,477.16 L178.7,477.16 L179.7,477.16 L180.7,477.15 L181.6,477.14 L182.6,477.13 L183.6,477.12 L184.5,477.10 L185.5,477.09 L186.5,477.06 L187.5,477.04 L188.4,477.01 L189.4,476.99 L190.4,476.97 L191.3,476.96 L192.3,476.96 L193.3,476.95 L194.3,476.95 L195.2,476.94 L196.2,476.92 L197.2,476.84 L198.1,476.75 L199.1,476.67 L200.1,476.61 L201.1,476.57 L202.0,476.53 L203.0,476.46 L204.0,476.32 L204.9,476.16 L205.9,475.99 L206.9,475.81 L207.8,475.64 L208.8,475.46 L209.8,475.27 L210.8,474.95 L211.7,474.67 L212.7,474.74 L213.7,474.75 L214.6,474.75 L215.6,475.26 L216.6,475.33 L217.6,475.11 L218.5,475.19 L219.5,475.23 L220.5,475.36 L221.4,475.76 L222.4,475.96 L223.4,475.91 L224.4,475.84 L225.3,475.72 L226.3,475.60 L227.3,475.53 L228.2,475.49 L229.2,475.45 L230.2,475.35 L231.2,475.21 L232.1,475.09 L233.1,475.11 L234.1,475.23 L235.0,475.27 L236.0,475.28 L237.0,475.29 L237.9,475.31 L238.9,475.30 L239.9,475.27 L240.9,475.24 L241.8,475.22 L242.8,475.23 L243.8,475.25 L244.7,475.25 L245.7,475.25 L246.7,475.24 L247.7,475.24 L248.6,475.25 L249.6,475.29 L250.6,475.44 L251.5,475.62 L252.5,475.71 L253.5,475.75 L254.5,475.78 L255.4,475.82 L256.4,475.88 L257.4,475.93 L258.3,475.98 L259.3,476.03 L260.3,476.07 L261.2,476.05 L262.2,475.96 L263.2,475.85 L264.2,475.67 L265.1,475.62 L266.1,475.72 L267.1,475.80 L268.0,475.80 L269.0,475.78 L270.0,475.77 L271.0,475.76 L271.9,475.79 L272.9,475.81 L273.9,475.84 L274.8,475.87 L275.8,475.90 L276.8,475.93 L277.8,476.02 L278.7,476.12 L279.7,476.21 L280.7,476.25 L281.6,476.28 L282.6,476.30 L283.6,476.33 L284.6,476.37 L285.5,476.42 L286.5,476.46 L287.5,476.38 L288.4,476.25 L289.4,476.18 L290.4,476.18 L291.3,476.19 L292.3,476.20 L293.3,476.22 L294.3,476.25 L295.2,476.28 L296.2,476.32 L297.2,476.33 L298.1,476.34 L299.1,476.35 L300.1,476.36 L301.1,476.35 L302.0,476.34 L303.0,476.34 L304.0,476.33 L304.9,476.32 L305.9,476.31 L306.9,476.30 L307.9,476.24 L308.8,476.16 L309.8,476.08 L310.8,476.00 L311.7,475.94 L312.7,475.89 L313.7,475.83 L314.6,475.77 L315.6,475.73 L316.6,475.73 L317.6,475.74 L318.5,475.74 L319.5,475.75 L320.5,475.80 L321.4,475.89 L322.4,475.96 L323.4,475.95 L324.4,475.91 L325.3,475.88 L326.3,475.90 L327.3,475.94 L328.2,475.97 L329.2,475.94 L330.2,475.88 L331.2,475.82 L332.1,475.77 L333.1,475.77 L334.1,475.80 L335.0,475.82 L336.0,475.84 L337.0,475.85 L338.0,475.85 L338.9,475.85 L339.9,475.85 L340.9,475.85 L341.8,475.85 L342.8,475.85 L343.8,475.85 L344.7,475.88 L345.7,475.91 L346.7,475.94 L347.7,475.96 L348.6,475.96 L349.6,475.95 L350.6,475.94 L351.5,475.93 L352.5,475.92 L353.5,475.90 L354.5,475.91 L355.4,475.99 L356.4,476.10 L357.4,476.18 L358.3,476.25 L359.3,476.24 L360.3,476.11 L361.3,476.06 L362.2,476.07 L363.2,476.08 L364.2,476.09 L365.1,476.12 L366.1,476.15 L367.1,476.17 L368.0,476.20 L369.0,476.20 L370.0,476.20 L371.0,476.19 L371.9,476.19 L372.9,476.18 L373.9,476.18 L374.8,476.19 L375.8,476.25 L376.8,476.33 L377.8,476.38 L378.7,476.39 L379.7,476.40 L380.7,476.41 L381.6,476.42 L382.6,476.46 L383.6,476.51 L384.6,476.56 L385.5,476.61 L386.5,476.61 L387.5,476.56 L388.4,476.50 L389.4,476.45 L390.4,476.39 L391.4,476.37 L392.3,476.39 L393.3,476.41 L394.3,476.44 L395.2,476.46 L396.2,476.48 L397.2,476.50 L398.1,476.52 L399.1,476.54 L400.1,476.56 L401.1,476.58 L402.0,476.57 L403.0,476.52 L404.0,476.47 L404.9,476.43 L405.9,476.38 L406.9,476.33 L407.9,476.31 L408.8,476.34 L409.8,476.37 L410.8,476.40 L411.7,476.42 L412.7,476.45 L413.7,476.48 L414.7,476.47 L415.6,476.45 L416.6,476.43 L417.6,476.42 L418.5,476.40 L419.5,476.38 L420.5,476.37 L421.4,476.38 L422.4,476.40 L423.4,476.43 L424.4,476.46 L425.3,476.48 L426.3,476.46 L427.3,476.44 L428.2,476.41 L429.2,476.39 L430.2,476.38 L431.2,476.39 L432.1,476.40 L433.1,476.42 L434.1,476.43 L435.0,476.44 L436.0,476.47 L437.0,476.57 L438.0,476.61 L438.9,476.58 L439.9,476.55 L440.9,476.60 L441.8,476.75 L442.8,476.87 L443.8,476.86 L444.7,476.82 L445.7,476.78 L446.7,476.74 L447.7,476.69 L448.6,476.64 L449.6,476.61 L450.6,476.64 L451.5,476.69 L452.5,476.73 L453.5,476.78 L454.5,476.81 L455.4,476.81 L456.4,476.81 L457.4,476.81 L458.3,476.80 L459.3,476.76 L460.3,476.73 L461.3,476.70 L462.2,476.70 L463.2,476.70 L464.2,476.70 L465.1,476.70 L466.1,476.70 L467.1,476.70 L468.1,476.68 L469.0,476.65 L470.0,476.62 L471.0,476.60 L471.9,476.58 L472.9,476.58 L473.9,476.58 L474.8,476.58 L475.8,476.58 L476.8,476.58 L477.8,476.61 L478.7,476.64 L479.7,476.68 L480.7,476.71 L481.6,476.72 L482.6,476.73 L483.6,476.73 L484.6,476.74 L485.5,476.75 L486.5,476.74 L487.5,476.74 L488.4,476.73 L489.4,476.72 L490.4,476.71 L491.4,476.71 L492.3,476.72 L493.3,476.74 L494.3,476.75 L495.2,476.77 L496.2,476.79 L497.2,476.81 L498.1,476.82 L499.1,476.84 L500.1,476.83 L501.1,476.82 L502.0,476.81 L503.0,476.80 L504.0,476.78 L504.9,476.77 L505.9,476.76 L506.9,476.75 L507.9,476.76 L508.8,476.77 L509.8,476.78 L510.8,476.79 L511.7,476.80 L512.7,476.81 L513.7,476.81 L514.7,476.81 L515.6,476.81 L516.6,476.81 L517.6,476.81 L518.5,476.81 L519.5,476.81 L520.5,476.81 L521.5,476.81 L522.4,476.80 L523.4,476.78 L524.4,476.76 L525.3,476.74 L526.3,476.72 L527.3,476.70 L528.2,476.68 L529.2,476.66 L530.2,476.65 L531.2,476.64 L532.1,476.63 L533.1,476.63 L534.1,476.62 L535.0,476.61 L536.0,476.60 L537.0,476.59 L538.0,476.58 L538.9,476.56 L539.9,476.54 L540.9,476.53 L541.8,476.51 L542.8,476.49 L543.8,476.50 L544.8,476.52 L545.7,476.54 L546.7,476.57 L547.7,476.59 L548.6,476.58 L549.6,476.56 L550.6,476.54 L551.5,476.52 L552.5,476.50 L553.5,476.51 L554.5,476.52 L555.4,476.53 L556.4,476.54 L557.4,476.55 L558.3,476.56 L559.3,476.57 L560.3,476.59 L561.3,476.62 L562.2,476.65 L563.2,476.68 L564.2,476.71 L565.1,476.72 L566.1,476.73 L567.1,476.74 L568.1,476.74 L569.0,476.75 L570.0,476.74 L571.0,476.72 L571.9,476.71 L572.9,476.70 L573.9,476.68 L574.9,476.67 L575.8,476.66 L576.8,476.67 L577.8,476.68 L578.7,476.69 L579.7,476.71 L580.7,476.72 L581.6,476.74 L582.6,476.75 L583.6,476.77 L584.6,476.78 L585.5,476.77 L586.5,476.77 L587.5,476.76 L588.4,476.75 L589.4,476.75 L590.4,476.74 L591.4,476.74 L592.3,476.73 L593.3,476.72 L594.3,476.72 L595.2,476.70 L596.2,476.68 L597.2,476.66 L598.2,476.64 L599.1,476.62 L600.1,476.60 L601.1,476.58 L602.0,476.56 L603.0,476.54 L604.0,476.51 L604.9,476.46 L605.9,476.41 L606.9,476.30 L607.9,476.13 L608.8,476.10 L609.8,476.20 L610.8,476.30 L611.7,476.40 L612.7,476.47 L613.7,476.49 L614.7,476.49 L615.6,476.49 L616.6,476.49 L617.6,476.50 L618.5,476.49 L619.5,476.45 L620.5,476.40 L621.5,476.35 L622.4,476.30 L623.4,476.28 L624.4,476.27 L625.3,476.26 L626.3,476.24 L627.3,476.22 L628.3,476.18 L629.2,476.13 L630.2,476.08 L631.2,476.04 L632.1,476.02 L633.1,476.03 L634.1,476.04 L635.0,476.07 L636.0,476.11 L637.0,476.15 L638.0,476.17 L638.9,476.16 L639.9,476.16 L640.9,476.15 L641.8,476.14 L642.8,476.13 L643.8,476.13 L644.8,476.12 L645.7,476.11 L646.7,476.11 L647.7,476.16 L648.6,476.23 L649.6,476.30 L650.6,476.31 L651.6,476.28 L652.5,476.25 L653.5,476.22 L654.5,476.20 L655.4,476.21 L656.4,476.24 L657.4,476.27 L658.3,476.29 L659.3,476.30 L660.3,476.28 L661.3,476.25 L662.2,476.23 L663.2,476.20 L664.2,476.18 L665.1,476.15 L666.1,476.13 L667.1,476.10 L668.1,476.08 L669.0,476.05 L670.0,476.03 L671.0,476.02 L671.9,476.01 L672.9,476.00 L673.9,475.99 L674.9,475.98 L675.8,475.97 L676.8,475.95 L677.8,475.93 L678.7,475.90 L679.7,475.88 L680.7,475.86 L681.6,475.87 L682.6,475.92 L683.6,475.97 L684.6,475.99 L685.5,475.98 L686.5,475.97 L687.5,475.95 L688.4,475.94 L689.4,475.93 L690.4,475.93 L691.4,475.94 L692.3,475.95 L693.3,475.95 L694.3,475.96 L695.2,475.97 L696.2,475.97 L697.2,475.98 L698.2,475.99 L699.1,475.99 L700.1,476.00 L701.1,475.98 L702.0,475.95 L703.0,475.93 L704.0,475.90 L705.0,475.88 L705.9,475.85 L706.9,475.85 L707.9,475.86 L708.8,475.86 L709.8,475.87 L710.8,475.87 L711.7,475.87 L712.7,475.85 L713.7,475.84 L714.7,475.82 L715.6,475.80 L716.6,475.78 L717.6,475.77 L718.5,475.76 L719.5,475.77 L720.5,475.79 L721.5,475.81 L722.4,475.76 L723.4,475.64 L724.4,475.54 L725.3,475.49 L726.3,475.47 L727.3,475.44 L728.3,475.42 L729.2,475.39 L730.2,475.37 L731.2,475.34 L732.1,475.29 L733.1,475.10 L734.1,474.88 L735.0,474.74 L736.0,474.74 L737.0,474.82 L738.0,474.95 L738.9,475.11 L739.9,475.15 L740.9,475.13 L741.8,475.12 L742.8,475.10 L743.8,475.05 L744.8,475.07 L745.7,475.16 L746.7,475.23 L747.7,475.20 L748.6,475.15 L749.6,475.10 L750.6,475.05 L751.6,475.02 L752.5,475.02 L753.5,475.02 L754.5,475.02 L755.4,475.02 L756.4,475.02 L757.4,475.02 L758.4,475.02 L759.3,475.03 L760.3,475.12 L761.3,475.25 L762.2,475.35 L763.2,475.35 L764.2,475.32 L765.1,475.29 L766.1,475.27 L767.1,475.27 L768.1,475.30 L769.0,475.32 L770.0,475.34 L771.0,475.35 L771.9,475.35 L772.9,475.35 L773.9,475.35 L774.9,475.35 L775.8,475.35 L776.8,475.35 L777.8,475.34 L778.7,475.30 L779.7,475.26 L780.7,475.21 L781.7,475.17 L782.6,475.12 L783.6,475.11 L784.6,475.12 L785.5,475.14 L786.5,475.15 L787.5,475.17 L788.4,475.18 L789.4,475.19 L790.4,475.19 L791.4,475.18 L792.3,475.18 L793.3,475.18 L794.3,475.17 L795.2,475.17 L796.2,475.16 L797.2,475.15 L798.2,475.13 L799.1,475.11 L800.1,475.08 L801.1,475.06 L802.0,475.04 L803.0,475.06 L804.0,475.08 L805.0,475.10 L805.9,475.12 L806.9,475.10 L807.9,475.06 L808.8,475.02 L809.8,474.98 L810.8,474.94 L811.8,474.90 L812.7,474.87 L813.7,474.91 L814.7,474.96 L815.6,474.93 L816.6,474.89 L817.6,474.86 L818.5,474.89 L819.5,474.93 L820.5,474.91 L821.5,474.87 L822.4,474.82 L823.4,474.81 L824.4,474.82 L825.3,474.83 L826.3,474.83 L827.3,474.84 L828.3,474.84 L829.2,474.81 L830.2,474.77 L831.2,474.73 L832.1,474.74 L833.1,474.75 L834.1,474.75 L835.1,474.75 L836.0,474.73 L837.0,474.72 L838.0,474.71 L838.9,474.70 L839.9,474.68 L840.9,474.57 L841.8,474.41 L842.8,474.33 L843.8,474.27 L844.8,474.20 L845.7,474.14 L846.7,474.06 L847.7,473.95 L848.6,473.68 L849.6,473.94 L850.6,474.21 L851.6,474.32 L852.5,474.46 L853.5,474.64 L854.5,474.59 L855.4,474.52 L856.4,474.42 L857.4,474.31 L858.4,474.22 L859.3,474.20 L860.3,474.20 L861.3,474.20 L862.2,474.20 L863.2,474.16 L864.2,474.05 L865.2,473.93 L866.1,473.83 L867.1,473.77 L868.1,473.73 L869.0,473.83 L870.0,473.95 L871.0,473.95 L871.9,473.92 L872.9,473.86 L873.9,473.79 L874.9,473.72 L875.8,473.60 L876.8,473.46 L877.8,473.34 L878.7,473.26 L879.7,473.16 L880.7,472.97 L881.7,472.89 L882.6,472.93 L883.6,472.96 L884.6,472.98 L885.5,472.91 L886.5,472.81 L887.5,472.70 L888.5,472.59 L889.4,472.66 L890.4,472.97 L891.4,473.05 L892.3,472.98 L893.3,472.89 L894.3,472.78 L895.2,472.66 L896.2,472.53 L897.2,472.40 L898.2,472.29 L899.1,472.25 L900.1,472.21 L901.1,472.18 L902.0,472.14 L903.0,472.11 L904.0,472.07 L905.0,472.04 L905.9,472.00 L906.9,471.96 L907.9,471.92 L908.8,471.89 L909.8,471.85 L910.8,471.74 L911.8,471.48 L912.7,471.19 L913.7,470.91 L914.7,470.55 L915.6,470.07 L916.6,469.47 L917.6,468.65 L918.5,467.90 L919.5,467.63 L920.5,467.43 L921.5,467.26 L922.4,466.96 L923.4,466.16 L924.4,465.35 L925.3,464.48 L926.3,463.21 L927.3,461.97 L928.3,461.57 L929.2,463.14 L930.2,463.82 L931.2,462.99 L932.1,462.15 L933.1,461.29 L934.1,460.37 L935.1,459.33 L936.0,458.33 L937.0,457.17 L938.0,456.09 L938.9,456.35 L939.9,457.99 L940.9,457.38 L941.9,456.01 L942.8,455.87 L943.8,455.79 L944.8,456.10 L945.7,457.84 L946.7,458.90 L947.7,458.10 L948.6,457.99 L949.6,458.61 L950.6,458.78 L951.6,458.61 L952.5,458.98 L953.5,460.00 L954.5,461.24 L955.4,461.44 L956.4,462.43 L957.4,464.03 L958.4,462.78 L959.3,461.14 L960.3,460.03 L961.3,459.57 L962.2,460.08 L963.2,460.77 L964.2,460.85 L965.2,460.44 L966.1,459.82 L967.1,458.99 L968.1,457.83 L969.0,456.34 L970.0,455.11 L971.0,454.05 L971.9,452.95 L972.9,451.81 L973.9,451.27 L974.9,450.93 L975.8,450.62 L976.8,450.31 L977.8,449.81 L978.7,448.95 L979.7,448.20 L980.7,447.65 L981.7,447.07 L982.6,446.04 L983.6,445.18 L983.6,444.60" fill="none" stroke="#4d84c6" stroke-width="1.25"/>
<path d="M75.7,440.5 L997.5,440.5" stroke="#b4b4b8" stroke-width="1" fill="none"/>
<line x1="89.4" y1="440.5" x2="89.4" y2="478.0" stroke="#b8b8b8" stroke-width="1"/>
<line x1="983.6" y1="440.5" x2="983.6" y2="478.0" stroke="#b8b8b8" stroke-width="1"/>
<rect x="85.8" y="451.8" width="7.4" height="14.3" fill="#eeecee" stroke="#aaaaaa" stroke-width="1"/>
<line x1="88.5" y1="454.8" x2="88.5" y2="463" stroke="#a0a0a0" stroke-width="0.9"/>
<line x1="90.3" y1="454.8" x2="90.3" y2="463" stroke="#a0a0a0" stroke-width="0.9"/>
<rect x="980.0" y="451.8" width="7.4" height="14.3" fill="#eeecee" stroke="#aaaaaa" stroke-width="1"/>
<line x1="982.7" y1="454.8" x2="982.7" y2="463" stroke="#a0a0a0" stroke-width="0.9"/>
<line x1="984.5" y1="454.8" x2="984.5" y2="463" stroke="#a0a0a0" stroke-width="0.9"/>
<rect x="89.4" y="478.0" width="894.2" height="13.5" fill="#c3cad4"/>
<line x1="75.7" y1="491.5" x2="997.5" y2="491.5" stroke="#b0b0b0" stroke-width="1"/>
<rect x="76.2" y="478.5" width="13.4" height="12.5" fill="#e8e6e8" stroke="#cccccc" stroke-width="1"/>
<rect x="984.1" y="478.5" width="13.4" height="12.5" fill="#e8e6e8" stroke="#cccccc" stroke-width="1"/>
<path d="M84.3,482.8 L84.3,488.2 L81.1,485.5 Z" fill="#555555"/>
<path d="M989.9,482.8 L989.9,488.4 L993.2,485.6 Z" fill="#555555"/>
<line x1="532.9" y1="481.6" x2="532.9" y2="487.8" stroke="#4a4a4a" stroke-width="1.1"/>
<line x1="536.4" y1="481.6" x2="536.4" y2="487.8" stroke="#4a4a4a" stroke-width="1.1"/>
<line x1="539.9" y1="481.6" x2="539.9" y2="487.8" stroke="#4a4a4a" stroke-width="1.1"/>
<line x1="417" y1="513.6" x2="432.5" y2="513.6" stroke="#7cb5ec" stroke-width="2"/>
<text x="437.5" y="517.3" font-size="12.3" font-weight="bold" fill="#333333">Market Cap</text>
<rect x="522.3" y="507.2" width="14.8" height="10.8" fill="#777777"/>
<text x="542.3" y="517.4" font-size="12.4" font-weight="bold" fill="#333333" letter-spacing="0.35">24h Vol</text>
</svg>
</body></html>
